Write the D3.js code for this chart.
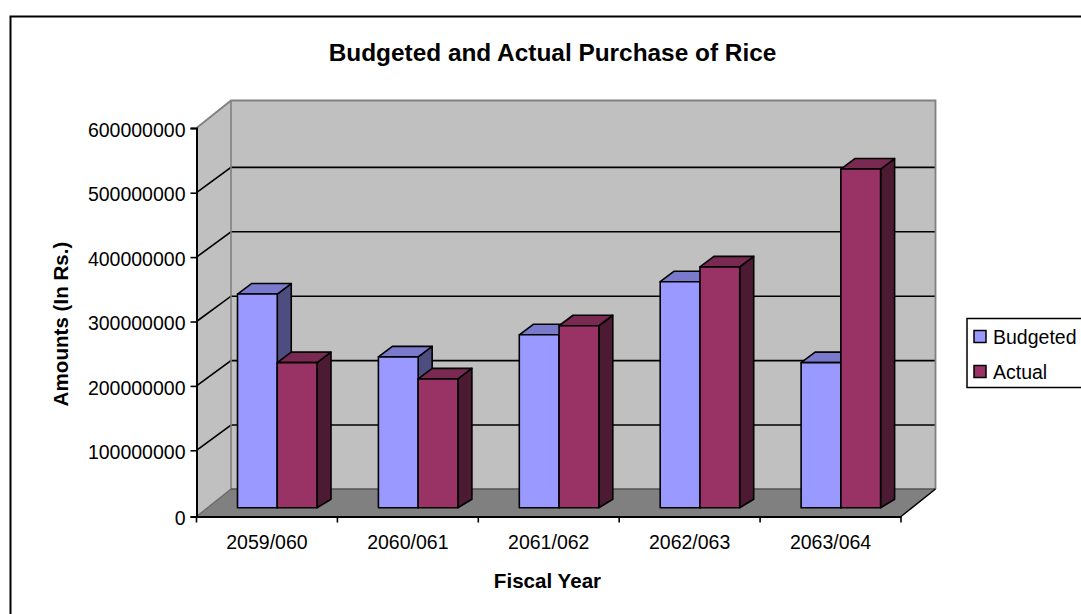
<!DOCTYPE html>
<html><head><meta charset="utf-8">
<script src="https://cdn.jsdelivr.net/npm/d3@7"></script>
<style>html,body{margin:0;padding:0;background:#fff}svg{display:block}text{font-family:"Liberation Sans",Arial,sans-serif;fill:#000}</style>
</head><body><svg id="c" width="1081" height="614"></svg>
<script>
const categories = ["2059/060","2060/061","2061/062","2062/063","2063/064"];
const seriesNames = ["Budgeted","Actual"];
const budgeted = [330000000,233000000,267000000,349000000,224000000];
const actual = [224000000,199000000,281000000,372000000,523000000];
const yTicks = [0,100000000,200000000,300000000,400000000,500000000,600000000];
const colors = {Budgeted:{front:"#9999FF",top:"#7A7ACC",side:"#4D4D80"},Actual:{front:"#993366",top:"#7A2952",side:"#4D1A33"}};

const svg = d3.select("#c");
const W=1081,H=614;
const x = d3.scaleBand().domain(categories).range([196.5,901]);
const y = d3.scaleLinear().domain([0,600000000]).range([516.5,128]);
const yAxis = d3.scaleLinear().domain([0,100000000,500000000,600000000]).range([516.5,450.3,192.7,128]);
const inner = d3.scaleBand().domain(seriesNames).range([30.5,110]);
const DX=34.5,DY=-27.5,GY=-25.3; // wall depth, inner-gridline rise
const FX=10.5,FY=-8.8;           // front plane of bars
const BX=14,BYT=-10.5,BYB=-8.5;  // bar depth
const pts=a=>a.map(p=>p.join(",")).join(" ");

svg.append("rect").attr("x",10.5).attr("y",16.5).attr("width",W+20).attr("height",H+20).attr("fill","#fff").attr("stroke","#000").attr("stroke-width",2);

const x0=x.range()[0],x1=x.range()[1],yb=y(0),yt=y(600000000);
svg.append("polygon").attr("points",pts([[x0,yb],[x0+DX,yb+DY],[x1+DX,yb+DY],[x1,yb]])).attr("fill","#808080");
svg.append("polygon").attr("points",pts([[x0,yb],[x0+DX,yb+DY],[x0+DX,yt+DY],[x0,yt]])).attr("fill","#C0C0C0");
svg.append("rect").attr("x",x0+DX).attr("y",yt+DY).attr("width",x1-x0).attr("height",yb-yt).attr("fill","#C0C0C0");

yTicks.filter(t=>t>0&&t<600000000).forEach(t=>{
  svg.append("polyline").attr("points",pts([[x0,yAxis(t)],[x0+DX,yAxis(t)+GY],[x1+DX,yAxis(t)+GY]])).attr("fill","none").attr("stroke","#000").attr("stroke-width",1.6);
});
svg.append("polyline").attr("points",pts([[x0,yt],[x0+DX,yt+DY],[x1+DX,yt+DY],[x1+DX,yb+DY]])).attr("fill","none").attr("stroke","#808080").attr("stroke-width",1.8);
svg.append("line").attr("x1",x0+DX).attr("x2",x0+DX).attr("y1",yt+DY).attr("y2",yb+DY).attr("stroke","#808080").attr("stroke-width",1.6);
svg.append("line").attr("x1",x0+DX).attr("x2",x1+DX).attr("y1",yb+DY).attr("y2",yb+DY).attr("stroke","#555").attr("stroke-width",1.6);
svg.append("line").attr("x1",x0).attr("y1",yb).attr("x2",x0+DX).attr("y2",yb+DY).attr("stroke","#666").attr("stroke-width",1.2);
svg.append("line").attr("x1",x1).attr("y1",yb).attr("x2",x1+DX).attr("y2",yb+DY).attr("stroke","#000").attr("stroke-width",1.5);

const gy=svg.append("g").attr("transform",`translate(${x0},0)`).call(d3.axisLeft(yAxis).tickValues(yTicks).tickFormat(d3.format("d")).tickSize(6).tickPadding(5));
const gx=svg.append("g").attr("transform",`translate(0,${yb})`).call(d3.axisBottom(x).tickSize(0).tickPadding(19));
gx.selectAll(".tick").select("line").remove();
const bounds=d3.range(categories.length+1).map(i=>x0+i*x.step());
gx.selectAll("line.b").data(bounds).join("line").attr("class","b").attr("x1",d=>d).attr("x2",d=>d).attr("y1",0).attr("y2",6).attr("stroke","#000").attr("stroke-width",1.6);
[gx,gy].forEach(g=>{g.selectAll("text").attr("font-size",19.5);g.selectAll("line").attr("stroke","#000").attr("stroke-width",1.6);g.selectAll("path").attr("stroke","#000").attr("stroke-width",2);g.attr("font-family",null)});
gy.selectAll("text").attr("dy","0.37em").attr("y",1);

const rows=[];
categories.forEach((c,i)=>{rows.push({c,s:"Budgeted",v:budgeted[i]});rows.push({c,s:"Actual",v:actual[i]});});
const bars=svg.append("g").selectAll("g").data(rows).join("g").attr("stroke","#000").attr("stroke-width",1.6).attr("stroke-linejoin","round");
bars.each(function(d){
  const g=d3.select(this),l=x(d.c)+inner(d.s)+FX,r=l+inner.bandwidth(),t=y(d.v)+FY,b=y(0)+FY,col=colors[d.s];
  g.append("polygon").attr("points",pts([[r,t],[r+BX,t+BYT],[r+BX,b+BYB],[r,b]])).attr("fill",col.side);
  g.append("polygon").attr("points",pts([[l,t],[l+BX,t+BYT],[r+BX,t+BYT],[r,t]])).attr("fill",col.top);
  g.append("rect").attr("x",l).attr("y",t).attr("width",r-l).attr("height",b-t).attr("fill",col.front);
});

svg.append("text").attr("x",552.5).attr("y",61).attr("text-anchor","middle").attr("font-size",24.4).attr("font-weight","bold").text("Budgeted and Actual Purchase of Rice");
svg.append("text").attr("x",547.5).attr("y",587.5).attr("text-anchor","middle").attr("font-size",20.6).attr("font-weight","bold").text("Fiscal Year");
svg.append("text").attr("transform","translate(67.5,324) rotate(-90)").attr("text-anchor","middle").attr("font-size",20.6).attr("font-weight","bold").text("Amounts (In Rs.)");

svg.append("rect").attr("x",967).attr("y",318.5).attr("width",W).attr("height",69).attr("fill","#fff").attr("stroke","#000").attr("stroke-width",1.5);
const lg=svg.append("g").selectAll("g").data(seriesNames).join("g").attr("transform",(d,i)=>`translate(974,${330.5+i*35})`);
lg.append("rect").attr("width",12).attr("height",12).attr("fill",d=>colors[d].front).attr("stroke","#000").attr("stroke-width",1.5);
lg.append("text").attr("x",19).attr("y",13).attr("font-size",19.5).text(d=>d);
</script></body></html>
